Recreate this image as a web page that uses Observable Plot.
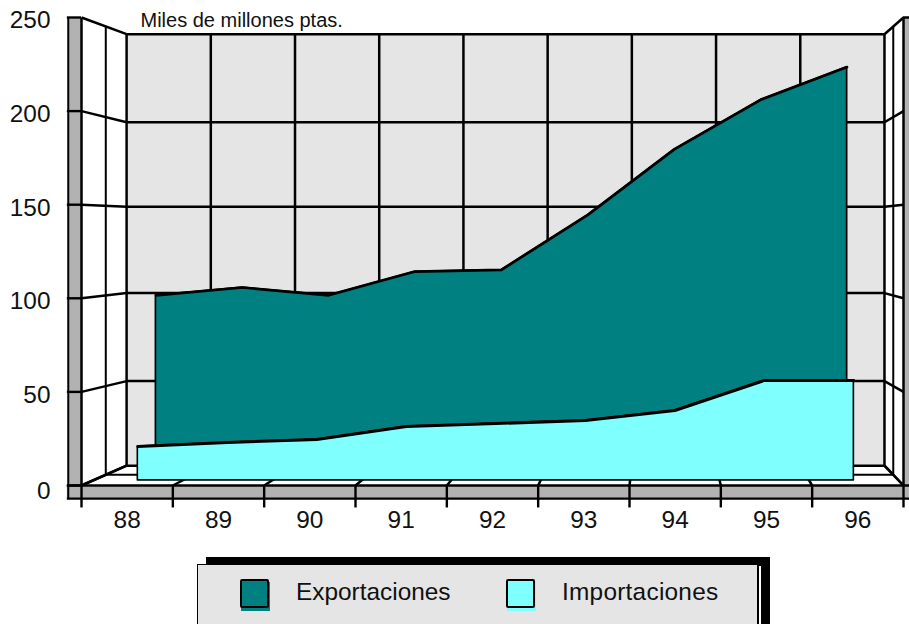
<!DOCTYPE html>
<html><head><meta charset="utf-8">
<script src="https://cdn.jsdelivr.net/npm/d3@7"></script>
<script src="https://cdn.jsdelivr.net/npm/@observablehq/plot@0.6"></script>
<style>
html,body{margin:0;padding:0;background:#fff;overflow:hidden;width:909px;height:624px}
#chart{position:absolute;left:0;top:0}
#chart svg{display:block}
.leg{position:absolute;font-family:"Liberation Sans",Arial,sans-serif;color:#111}
</style></head><body>
<div id="chart"></div>
<div class="leg" style="left:206px;top:557px;width:564px;height:80px;background:#000"></div>
<div class="leg" style="left:759px;top:566px;width:2px;height:60px;background:#fff"></div>
<div class="leg" style="left:197px;top:564px;width:561px;height:70px;background:#e5e5e5;border:1.5px solid #000;box-sizing:border-box;border-right-width:1px"></div>
<div class="leg" style="left:241px;top:582px;width:29px;height:29px;background:#008080"></div>
<div class="leg" style="left:240px;top:579px;width:29px;height:29px;background:#008080;border:2.5px solid #000;box-sizing:border-box;border-radius:2px"></div>
<div class="leg" style="left:507px;top:582px;width:29px;height:29px;background:#80ffff"></div>
<div class="leg" style="left:506px;top:579px;width:29px;height:29px;background:#80ffff;border:2.5px solid #000;box-sizing:border-box;border-radius:2px"></div>
<div class="leg" id="l1" style="left:296px;top:578px;font-size:24.4px;line-height:28px">Exportaciones</div>
<div class="leg" id="l2" style="left:562px;top:578px;font-size:24.4px;line-height:28px;letter-spacing:.25px">Importaciones</div>
<script>
const years = ["88","89","90","91","92","93","94","95","96"];
const exportaciones = [99.6,104,99.6,113,114,145,182,210,228.5];
const importaciones = [18.5,20.7,22.3,29.4,31,32.7,38.1,54.5,54.5];
const yTicks = [0,50,100,150,200,250];
const backTicks = [0,49,100,150,199,250];
const unitLabel = "Miles de millones ptas.";

// simple perspective: depth factor s shrinks toward a vanishing point (data units)
const VX = 6.33, VY = 135.7;
const DEPTH = {front:1, imports:0.98, exports:0.946, mid:0.958, back:0.922};
const px = (x,s) => VX + (x-VX)*s;
const py = (v,s) => VY + (v-VY)*s;

const cats = d3.range(10);
const tbl = (vals,s) => vals.map((v,i)=>({x:px(i+.5,s), y0:py(0,s), y1:py(v,s)}));
const expT = tbl(exportaciones, DEPTH.exports);
const impT = tbl(importaciones, DEPTH.imports);

const seg = (x1,v1,s1,x2,v2,s2) => ({x1:px(x1,s1),y1:py(v1,s1),x2:px(x2,s2),y2:py(v2,s2)});
const {back,mid,front} = DEPTH;
const thick = [
  ...backTicks.map(v=>seg(0,v,back,9,v,back)),
  ...cats.map(i=>seg(i,0,back,i,250,back)),
  ...yTicks.flatMap((v,k)=>[seg(0,v,front,0,backTicks[k],back),seg(9,v,front,9,backTicks[k],back)]),
  ...cats.map(i=>seg(i,0,front,i,0,back)),
  seg(0,0,front,0,250,front), seg(9,0,front,9,250,front)
];
const thin = [
  seg(0,0,mid,0,250,mid), seg(9,0,mid,9,250,mid), seg(0,0,mid,9,0,mid)
];

const plot = Plot.plot({
  width:909,height:624,marginLeft:81,marginRight:6,marginTop:17,marginBottom:139,
  x:{domain:[0,9],axis:null},
  y:{domain:[0,250],axis:null},
  clip:false,
  style:{fontFamily:'"Liberation Sans",Arial,sans-serif',background:"transparent",overflow:"visible"},
  marks:[
    // side strips and base
    Plot.rect([{}],{x1:-0.14,x2:0,y1:0,y2:250,fill:"#b2b2b2"}),
    Plot.rect([{}],{x1:9,x2:9.07,y1:0,y2:250,fill:"#b2b2b2"}),
    Plot.rect([{}],{x1:-0.155,x2:9.07,y1:0,y2:-7,fill:"#b2b2b2"}),
    // back wall
    Plot.rect([{}],{x1:px(0,back),x2:px(9,back),y1:py(0,back),y2:py(250,back),fill:"#e5e5e5"}),
    Plot.link(thin,{x1:"x1",y1:"y1",x2:"x2",y2:"y2",stroke:"#000",strokeWidth:2}),
    Plot.link(thick,{x1:"x1",y1:"y1",x2:"x2",y2:"y2",stroke:"#000",strokeWidth:2.5}),
    // base outline
    Plot.ruleY([0,-7],{x1:-0.155,x2:9.07,stroke:"#000",strokeWidth:2.4}),
    Plot.ruleX([-0.145],{y1:-7,y2:250,stroke:"#000",strokeWidth:2}),
    Plot.ruleY(yTicks,{x1:-0.155,x2:0,stroke:"#000",strokeWidth:2.4}),
    Plot.ruleY([250],{x1:9,x2:9.07,stroke:"#000",strokeWidth:2.5}),
    Plot.ruleX(cats,{y1:0,y2:-12,stroke:"#000",strokeWidth:2.4}),
    // series
    Plot.areaY(expT,{x:"x",y1:"y0",y2:"y1",fill:"#008080",stroke:"#000",strokeWidth:1.7}),
    Plot.line(expT,{x:"x",y:"y1",stroke:"#000",strokeWidth:2.5}),
    Plot.areaY(impT,{x:"x",y1:"y0",y2:"y1",fill:"#80ffff",stroke:"#000",strokeWidth:1.6,strokeLinejoin:"round"}),
    Plot.line(impT,{x:"x",y:"y1",stroke:"#000",strokeWidth:3}),
    // axes and labels
    Plot.axisY({ticks:yTicks.slice(1),tickSize:0,tickPadding:31,fontSize:24.4,tickFormat:d=>String(d),dy:3,color:"#111",label:null}),
    Plot.axisY({ticks:[yTicks[0]],tickSize:0,tickPadding:31,fontSize:24.4,tickFormat:d=>String(d),dy:6,color:"#111",label:null}),
    Plot.text(years,{x:(d,i)=>i+.5,y:-18.6,text:d=>d,fontSize:24.4,fill:"#111"}),
    Plot.text([unitLabel],{frameAnchor:"top-left",dx:59,dy:-5,fontSize:20,fill:"#111"})
  ]
});
document.getElementById("chart").append(plot);
</script>
</body></html>
